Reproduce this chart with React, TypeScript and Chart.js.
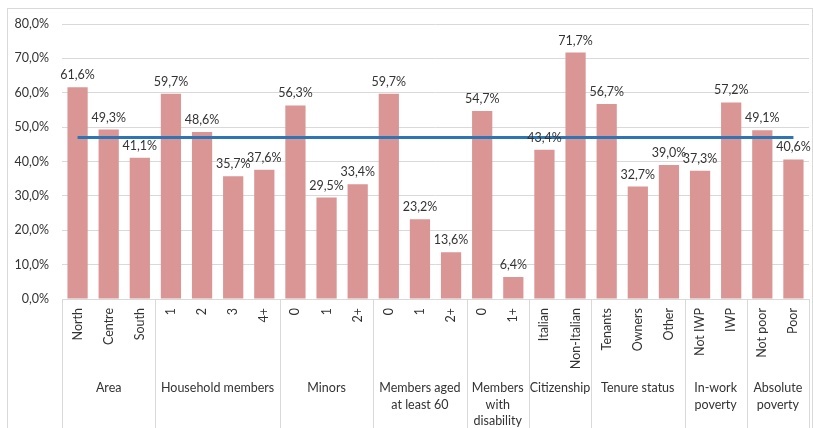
import React, { useEffect, useRef } from "react";
import { Chart, registerables } from "chart.js";

Chart.register(...registerables);

const categories = [
  "North", "Centre", "South",
  "1", "2", "3", "4+",
  "0", "1", "2+",
  "0", "1", "2+",
  "0", "1+",
  "Italian", "Non-Italian",
  "Tenants", "Owners", "Other",
  "Not IWP", "IWP",
  "Not poor", "Poor",
];

const values = [
  61.6, 49.3, 41.1,
  59.7, 48.6, 35.7, 37.6,
  56.3, 29.5, 33.4,
  59.7, 23.2, 13.6,
  54.7, 6.4,
  43.4, 71.7,
  56.7, 32.7, 39.0,
  37.3, 57.2,
  49.1, 40.6,
];

const averageLine = [
  47.0, 47.0, 47.0, 47.0, 47.0, 47.0, 47.0, 47.0, 47.0, 47.0, 47.0, 47.0,
  47.0, 47.0, 47.0, 47.0, 47.0, 47.0, 47.0, 47.0, 47.0, 47.0, 47.0, 47.0,
];

const groupLabels: string[][] = [
  ["Area"],
  ["Household members"],
  ["Minors"],
  ["Members aged", "at least 60"],
  ["Members", "with", "disability"],
  ["Citizenship"],
  ["Tenure status"],
  ["In-work", "poverty"],
  ["Absolute", "poverty"],
];

const groupSizes = [3, 4, 3, 3, 2, 2, 3, 2, 2];

const yMin = 0;
const yMax = 80;
const yStep = 10;

const FONT = "Lato, 'Noto Sans', sans-serif";
const FS = 12.5;
const TEXT = "#333333";
const GRID = "#d9d9d9";

const fmt = (v: number) => v.toFixed(1).replace(".", ",") + "%";

const groupPlugin = {
  id: "groupAxis",
  afterDraw(chart: any) {
    const x = chart.scales.x;
    const ctx = chart.ctx as CanvasRenderingContext2D;
    ctx.save();
    ctx.strokeStyle = GRID;
    ctx.lineWidth = 1;
    const bottom = chart.height;
    const sep = (px: number) => {
      const xx = Math.round(px) + 0.5;
      ctx.beginPath();
      ctx.moveTo(xx, x.top);
      ctx.lineTo(xx, bottom);
      ctx.stroke();
    };
    sep(x.getPixelForValue(-0.5));
    ctx.fillStyle = TEXT;
    ctx.font = `${FS}px ${FONT}`;
    ctx.textAlign = "center";
    ctx.textBaseline = "middle";
    let start = 0;
    groupSizes.forEach((size, g) => {
      const end = start + size;
      const left = x.getPixelForValue(start - 0.5);
      const right = x.getPixelForValue(end - 0.5);
      sep(right);
      const cx = (left + right) / 2;
      groupLabels[g].forEach((line, li) => {
        ctx.fillText(line, cx, x.top + 89 + li * 16.5);
      });
      start = end;
    });
    ctx.restore();
  },
};

const labelPlugin = {
  id: "barLabels",
  afterDatasetsDraw(chart: any) {
    const ctx = chart.ctx as CanvasRenderingContext2D;
    const meta = chart.getDatasetMeta(0);
    ctx.save();
    ctx.fillStyle = TEXT;
    ctx.font = `${FS}px ${FONT}`;
    ctx.textAlign = "center";
    ctx.textBaseline = "alphabetic";
    meta.data.forEach((bar: any, i: number) => {
      ctx.fillText(fmt(values[i]), bar.x, bar.y - 8);
    });
    ctx.restore();
  },
};

export default function App() {
  const ref = useRef<HTMLCanvasElement | null>(null);

  useEffect(() => {
    if (!ref.current) return;
    const chart = new Chart(ref.current, {
      type: "bar",
      data: {
        labels: categories,
        datasets: [
          {
            type: "bar",
            data: values,
            backgroundColor: "#D99694",
            borderWidth: 0,
            categoryPercentage: 1,
            barPercentage: 0.65,
            order: 1,
          } as any,
          {
            type: "line",
            data: averageLine,
            borderColor: "#2E75B6",
            borderWidth: 3,
            pointRadius: 0,
            fill: false,
            order: 0,
          } as any,
        ],
      },
      options: {
        animation: false,
        responsive: true,
        maintainAspectRatio: false,
        layout: { padding: { top: 15, right: 3, left: 0, bottom: 0 } },
        plugins: {
          legend: { display: false },
          tooltip: { enabled: false },
        },
        scales: {
          x: {
            offset: true,
            grid: { display: false, drawTicks: false },
            border: { display: false },
            ticks: {
              autoSkip: false,
              minRotation: 90,
              maxRotation: 90,
              padding: 9,
              color: TEXT,
              font: { family: FONT, size: FS },
            },
            afterFit(scale: any) {
              scale.height = 130;
              scale.paddingLeft = 0;
              scale.paddingRight = 0;
            },
          },
          y: {
            min: yMin,
            max: yMax,
            grid: { color: GRID, drawTicks: false },
            border: { display: false },
            ticks: {
              stepSize: yStep,
              padding: 13,
              color: TEXT,
              font: { family: FONT, size: FS },
              callback: (v: any) => fmt(Number(v)),
            },
            afterFit(scale: any) {
              scale.width = 54;
              scale.paddingTop = 0;
              scale.paddingBottom = 0;
            },
          },
        },
      },
      plugins: [groupPlugin, labelPlugin],
    });
    if ((document as any).fonts && (document as any).fonts.load) {
      (document as any).fonts.load(`${FS}px Lato`).then(() => chart.update()).catch(() => {});
    }
    return () => chart.destroy();
  }, []);

  return (
    <div
      style={{
        position: "fixed",
        left: 7,
        top: 8,
        width: 806,
        height: 421,
        boxSizing: "border-box",
        border: `1px solid ${GRID}`,
        borderBottom: "none",
        background: "#fff",
      }}
    >
      <div style={{ position: "relative", width: 804, height: 420 }}>
        <canvas ref={ref} />
      </div>
    </div>
  );
}
